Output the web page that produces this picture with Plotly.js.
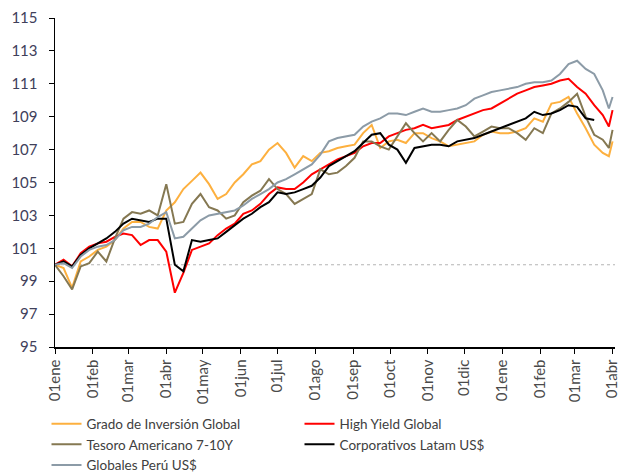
<!DOCTYPE html>
<html>
<head>
<meta charset="utf-8">
<script src="https://cdn.plot.ly/plotly-3.0.1.min.js"></script>
<style>
  body { margin: 0; background: #fff; }
  #chart { width: 620px; height: 475px; }
</style>
</head>
<body>
<div id="chart"></div>
<script>
// weekly sample dates (last two points closer to the end of the chart)
var dates = [
  '2020-01-01','2020-01-08','2020-01-15','2020-01-22','2020-01-29','2020-02-05','2020-02-12','2020-02-19',
  '2020-02-26','2020-03-04','2020-03-11','2020-03-18','2020-03-25','2020-04-01','2020-04-08','2020-04-15',
  '2020-04-22','2020-04-29','2020-05-06','2020-05-13','2020-05-20','2020-05-27','2020-06-03','2020-06-10',
  '2020-06-17','2020-06-24','2020-07-01','2020-07-08','2020-07-15','2020-07-22','2020-07-29','2020-08-05',
  '2020-08-12','2020-08-19','2020-08-26','2020-09-02','2020-09-09','2020-09-16','2020-09-23','2020-09-30',
  '2020-10-07','2020-10-14','2020-10-21','2020-10-28','2020-11-04','2020-11-11','2020-11-18','2020-11-25',
  '2020-12-02','2020-12-09','2020-12-16','2020-12-23','2020-12-30','2021-01-06','2021-01-13','2021-01-20',
  '2021-01-27','2021-02-03','2021-02-10','2021-02-17','2021-02-24','2021-03-03','2021-03-10','2021-03-17',
  '2021-03-24','2021-03-29','2021-04-01'
];

// Grado de Inversión Global
var gradoInv = [
  100.0, 99.8, 98.6, 100.2, 100.5, 100.9, 101.1, 101.5,
  102.2, 102.6, 102.6, 102.3, 102.2, 103.3, 103.8, 104.6,
  105.1, 105.6, 104.9, 104.0, 104.3, 105.0, 105.5, 106.1,
  106.3, 107.0, 107.4, 106.8, 105.9, 106.6, 106.3, 106.8,
  106.9, 107.1, 107.2, 107.3, 108.0, 108.5, 107.1, 107.5,
  107.6, 107.4, 108.0, 108.0, 107.7, 107.5, 107.2, 107.3,
  107.4, 107.5, 107.9, 108.1, 108.0, 108.0, 108.1, 108.3,
  108.9, 108.7, 109.8, 109.9, 110.2, 109.2, 108.3, 107.3,
  106.8, 106.6, 107.5
];

// High Yield Global
var highYield = [
  100.0, 100.3, 99.9, 100.7, 101.1, 101.3, 101.4, 101.7,
  101.9, 101.8, 101.2, 101.5, 101.5, 100.8, 98.3, 99.5,
  100.9, 101.1, 101.3, 101.8, 102.2, 102.5, 103.1, 103.3,
  103.7, 104.3, 104.7, 104.6, 104.6, 105.0, 105.5, 105.8,
  106.1, 106.4, 106.6, 106.8, 107.2, 107.4, 107.4, 107.8,
  108.0, 108.2, 108.3, 108.5, 108.3, 108.4, 108.5, 108.8,
  109.0, 109.2, 109.4, 109.5, 109.8, 110.1, 110.4, 110.6,
  110.8, 110.9, 111.0, 111.2, 111.3, 110.8, 110.4, 109.7,
  109.1, 108.4, 109.4
];

// Tesoro Americano 7-10Y
var tesoro = [
  100.0, 99.3, 98.5, 99.9, 100.1, 100.8, 100.2, 101.6,
  102.8, 103.2, 103.1, 103.3, 103.0, 104.9, 102.5, 102.6,
  103.7, 104.3, 103.5, 103.3, 102.8, 103.0, 103.8, 104.2,
  104.5, 105.2, 104.6, 104.3, 103.7, 104.0, 104.3, 105.8,
  105.5, 105.6, 106.0, 106.5, 107.5, 107.5, 107.2, 107.0,
  107.8, 108.6, 108.0, 107.5, 108.0, 107.5, 108.2, 108.8,
  108.4, 107.8, 108.1, 108.4, 108.3, 108.3, 108.0, 107.6,
  108.3, 108.0, 109.2, 109.5, 109.9, 110.4, 109.0, 107.9,
  107.6, 107.1, 108.2
];

// Corporativos Latam US$ (serie termina antes)
var corpLatam = [
  100.0, 100.2, 99.9, 100.6, 101.0, 101.3, 101.6, 102.0,
  102.5, 102.8, 102.7, 102.6, 102.8, 102.8, 100.0, 99.6,
  101.5, 101.4, 101.5, 101.6, 102.0, 102.4, 102.8, 103.1,
  103.5, 103.8, 104.4, 104.3, 104.4, 104.6, 104.8, 105.3,
  106.0, 106.3, 106.6, 106.9, 107.4, 107.9, 108.0, 107.3,
  107.0, 106.2, 107.1, 107.2, 107.3, 107.3, 107.2, 107.5,
  107.6, 107.7, 107.9, 108.1, 108.3, 108.5, 108.7, 108.9,
  109.3, 109.1, 109.2, 109.4, 109.7, 109.6, 108.9, 108.8,
  null, null, null
];

// Globales Perú US$
var globalesPeru = [
  100.0, 100.1, 99.8, 100.5, 100.9, 101.1, 101.2, 101.5,
  102.1, 102.3, 102.3, 102.5, 102.9, 103.2, 101.6, 101.7,
  102.2, 102.7, 103.0, 103.1, 103.2, 103.3, 103.6, 104.0,
  104.3, 104.6, 105.0, 105.2, 105.5, 105.8, 106.1, 106.7,
  107.5, 107.7, 107.8, 107.9, 108.4, 108.7, 108.9, 109.2,
  109.2, 109.1, 109.3, 109.5, 109.3, 109.3, 109.4, 109.5,
  109.7, 110.1, 110.3, 110.5, 110.6, 110.7, 110.8, 111.0,
  111.1, 111.1, 111.2, 111.6, 112.2, 112.4, 111.9, 111.6,
  110.6, 109.5, 110.2
];

// month ticks
var tickDates = ['2020-01-01','2020-02-01','2020-03-01','2020-04-01','2020-05-01','2020-06-01','2020-07-01','2020-08-01',
  '2020-09-01','2020-10-01','2020-11-01','2020-12-01','2021-01-01','2021-02-01','2021-03-01','2021-04-01'];
var tickLabels = ['01ene','01feb','01mar','01abr','01may','01jun','01jul','01ago',
  '01sep','01oct','01nov','01dic','01ene','01feb','01mar','01abr'];

var fontFamily = 'Lato, "Open Sans", sans-serif';

// build one trace per series
function makeLine(name, values, colour) {
  return {
    type: 'scatter',
    mode: 'lines',
    name: name,
    x: dates,
    y: values,
    line: {color: colour, width: 2},
    connectgaps: false
  };
}

var traces = [
  makeLine('Grado de Inversión Global', gradoInv, '#FDB03F'),
  makeLine('High Yield Global', highYield, '#FF0000'),
  makeLine('Tesoro Americano 7-10Y', tesoro, '#857852'),
  makeLine('Corporativos Latam US$', corpLatam, '#000000'),
  makeLine('Globales Perú US$', globalesPeru, '#8C9BA7')
];

var layout = {
  width: 620,
  height: 475,
  margin: {l: 55, r: 5, t: 18, b: 128},
  paper_bgcolor: '#ffffff',
  plot_bgcolor: '#ffffff',
  font: {family: fontFamily, size: 13, color: '#404040'},
  showlegend: true,
  legend: {
    orientation: 'h',
    xref: 'container', yref: 'container',
    x: 0.075, xanchor: 'left',
    y: 0.14, yanchor: 'top',
    entrywidth: 208,
    font: {family: fontFamily, size: 13.5, color: '#404040'},
    traceorder: 'normal'
  },
  xaxis: {
    type: 'date',
    range: ['2020-01-01', '2021-04-03'],
    tickvals: tickDates,
    ticktext: tickLabels,
    tickangle: -90,
    ticks: 'outside',
    ticklen: 5,
    tickcolor: '#000',
    ticklabeloverflow: 'allow',
    showline: true,
    linecolor: '#000',
    linewidth: 1.5,
    showgrid: false,
    zeroline: false,
    tickfont: {family: fontFamily, size: 15, color: '#4a4a4a'}
  },
  yaxis: {
    range: [95, 115],
    dtick: 2,
    tick0: 95,
    ticks: 'outside',
    ticklen: 5,
    ticklabelstandoff: 8,
    tickcolor: '#000',
    showline: true,
    linecolor: '#000',
    linewidth: 1.5,
    showgrid: false,
    zeroline: false,
    tickfont: {family: fontFamily, size: 15, color: '#40405a'}
  },
  shapes: [{
    type: 'line', xref: 'paper', x0: 0, x1: 1, yref: 'y', y0: 100, y1: 100,
    line: {color: '#b5b5b5', width: 1, dash: 'dot'}, layer: 'below'
  }]
};

Plotly.newPlot('chart', traces, layout, {displayModeBar: false, staticPlot: true});
</script>
</body>
</html>
